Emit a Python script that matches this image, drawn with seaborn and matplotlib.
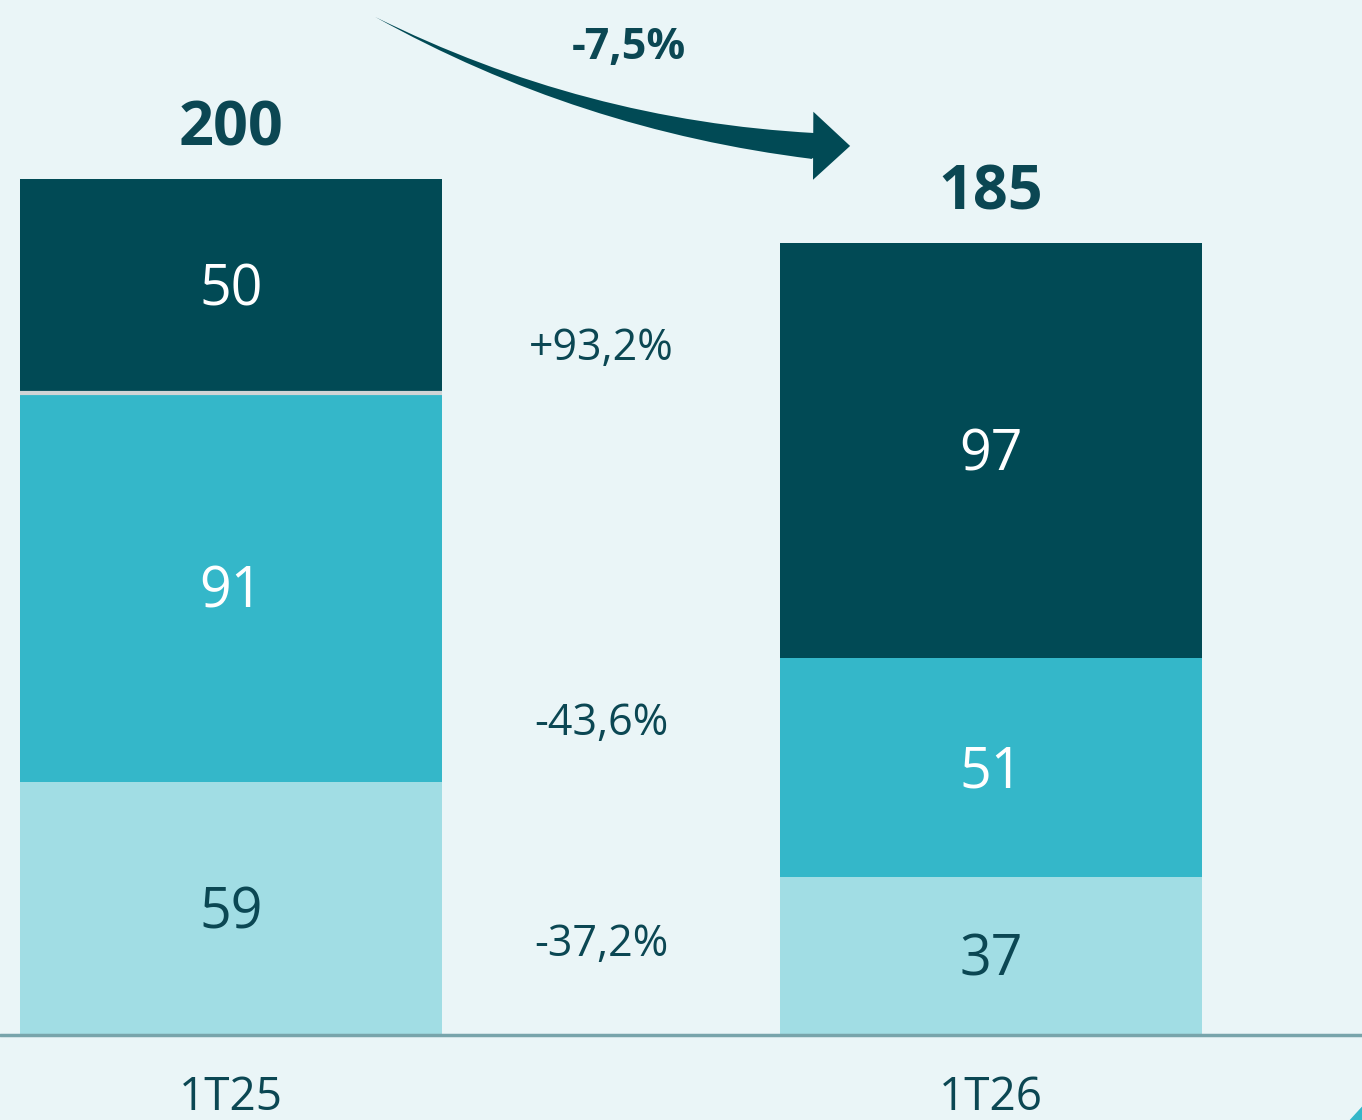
import numpy as np
import pandas as pd
import matplotlib.pyplot as plt
import seaborn as sns
from matplotlib.patches import Polygon

sns.set_theme(style="white")
plt.rcParams['font.family'] = ['Open Sans', 'DejaVu Sans']

# =========================
# DATA
# =========================
periods = ["1T25", "1T26"]
bottom_vals = [59, 37]     # light segment
middle_vals = [91, 51]     # mid segment
top_vals = [50, 97]        # dark segment
totals = [200, 185]
segment_changes = ["-37,2%", "-43,6%", "+93,2%"]   # bottom, middle, top
total_change = "-7,5%"

BG = "#EAF5F7"
DARK = "#014A55"
MID = "#34B7C9"
LIGHT = "#A1DDE4"
TEXT = "#0B4753"

df = pd.DataFrame({
    "period": periods,
    "bottom": bottom_vals,
    "middle": middle_vals,
    "top": top_vals,
})
df["cum1"] = df["bottom"]
df["cum2"] = df["bottom"] + df["middle"]
df["cum3"] = df["cum2"] + df["top"]

CAP = 0.714  # cap height of Open Sans, fraction of font size


def label(ax, x, y, s, fs, color=TEXT, weight="normal"):
    # centre the digits (cap height) on y instead of the full text box
    ax.annotate(s, xy=(x, y), xytext=(0, -CAP * fs / 2), textcoords="offset points",
                ha="center", va="baseline", fontsize=fs, color=color, fontweight=weight)


fig = plt.figure(figsize=(13.62, 11.2), dpi=100, facecolor=BG)
ax = fig.add_axes([0, 0, 1, 1])
ax.set_facecolor(BG)

bar_w = 0.555
# stacked bars drawn tallest first
sns.barplot(data=df, x="period", y="cum3", color=DARK, width=bar_w, saturation=1,
            linewidth=0, errorbar=None, ax=ax)
sns.barplot(data=df, x="period", y="cum2", color=MID, width=bar_w, saturation=1,
            linewidth=0, errorbar=None, ax=ax)
sns.barplot(data=df, x="period", y="cum1", color=LIGHT, width=bar_w, saturation=1,
            linewidth=0, errorbar=None, ax=ax)

# thin separator on the first bar
ax.hlines(df["cum2"].iloc[0], -bar_w / 2, bar_w / 2, color="#D0D4D5", lw=3, zorder=3)

# baseline
ax.axhline(0, color="#78A4AB", lw=2.5, zorder=4)

# segment labels, totals, period names
for i, row in df.iterrows():
    label(ax, i, row["bottom"] / 2, str(row["bottom"]), 40)
    label(ax, i, row["cum1"] + row["middle"] / 2, str(row["middle"]), 40, color="white")
    label(ax, i, row["cum2"] + row["top"] / 2, str(row["top"]), 40, color="white")
    label(ax, i, totals[i] + 13, str(totals[i]), 44, weight="bold")
    label(ax, i, -13.6, periods[i], 33)

# change labels between bars
mid_x = 0.487
label(ax, mid_x, 22.0, segment_changes[0], 31)
label(ax, mid_x, 73.6, segment_changes[1], 31)
label(ax, mid_x, 161.4, segment_changes[2], 31)

# total change arrow: tapering shaft + separate head
ax.annotate("", xy=(0.1895, 237.85), xytext=(0.7658, 207.7),
            arrowprops=dict(arrowstyle="wedge,tail_width=1.87,shrink_factor=0.45",
                            connectionstyle="arc3,rad=-0.1", color=DARK, lw=0,
                            mutation_scale=10, shrinkA=0, shrinkB=0))
ax.annotate("", xy=(0.8145, 207.7), xytext=(0.7618, 207.75),
            arrowprops=dict(arrowstyle="simple,head_length=2.66,head_width=4.9,tail_width=1.8",
                            color=DARK, lw=0, mutation_scale=10, shrinkA=0, shrinkB=0))
label(ax, 0.523, 231.5, total_change, 31, weight="bold")

ax.set_xlim(-0.304, 1.488)
ax.set_ylim(-19.86, 241.8)
ax.set_xlabel("")
ax.set_ylabel("")
ax.set_xticks([])
ax.set_yticks([])
sns.despine(ax=ax, left=True, bottom=True)

# small corner decoration
fig.patches.append(Polygon([[1.0, 0.0], [1.0, 0.012], [0.991, 0.0]], closed=True,
                           transform=fig.transFigure, facecolor=MID, edgecolor="none"))

fig.savefig("out.png", dpi=100, facecolor=BG)
